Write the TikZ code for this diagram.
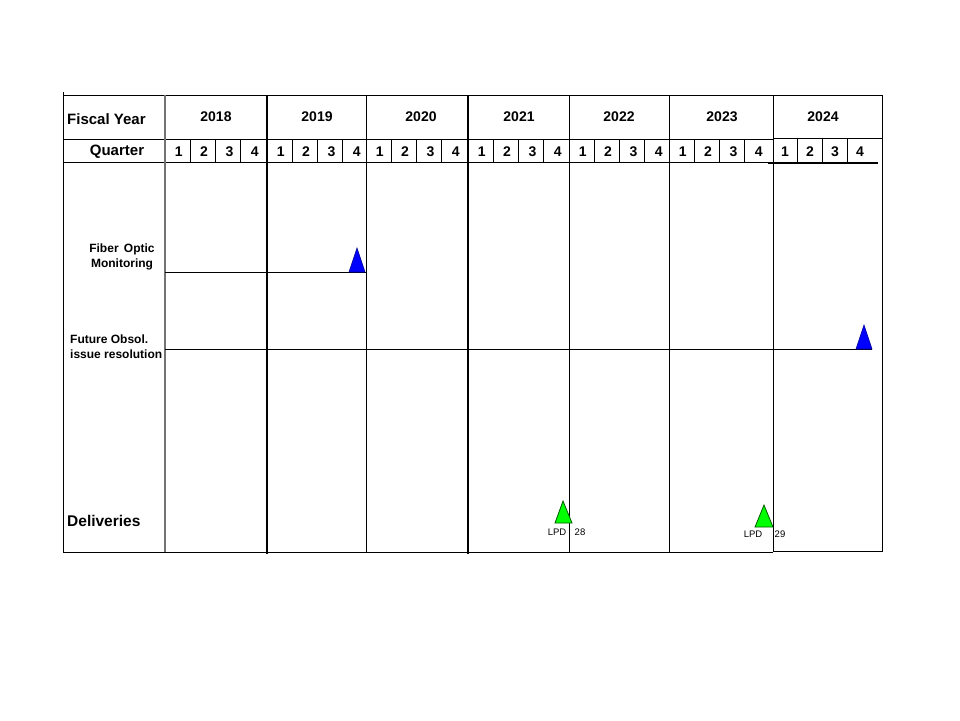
\documentclass[tikz,border=0pt]{standalone}
\usepackage{fontspec}
\setmainfont{Liberation Sans}
\begin{document}
\begin{tikzpicture}[x=1pt,y=-1pt,
  big/.style={font=\fontsize{14}{16}\selectfont\bfseries, inner sep=0pt},
  bigger/.style={font=\fontsize{15}{17}\selectfont\bfseries, inner sep=0pt},
  lab/.style={font=\fontsize{12}{15}\selectfont\bfseries, inner sep=0pt},
  small/.style={font=\fontsize{9.5}{11}\selectfont, inner sep=0pt},
  gline/.style={line width=1pt, black},
  greyline/.style={line width=1.2pt, black!55},
  heavy/.style={line width=2pt, black},
  bluetri/.style={fill=blue, draw=blue!55!black, line width=0.6pt},
  greentri/.style={fill=green, draw=green!35!black, line width=0.8pt}]
\useasboundingbox (0,0) rectangle (960,720);
% outer frame and header lines
\draw[gline] (63,95) -- (882,95);
\draw[gline] (63,92) -- (63,552);
\draw[gline] (63,139) -- (773,139);
\draw[line width=1.6pt] (773,138.5) -- (882,138.5);
\draw[gline] (63,162) -- (773,162);
\draw[line width=1.6pt] (768,163) -- (878,163);
\draw[gline] (63,552) -- (773,552);
\draw[gline] (773,551) -- (882,551);
% year columns
\draw[greyline] (165,95) -- (165,552);
\foreach \xx in {366,569,669,773,882} \draw[gline] (\xx,95) -- (\xx,552);
\foreach \xx in {267,468} \draw[heavy] (\xx,95) -- (\xx,554);
% quarter dividers
\foreach \s in {165,267,366,468,569,669}
  \foreach \k in {1,2,3} \draw[gline] ({\s+25.3*\k},139) -- ({\s+25.3*\k},162);
\foreach \xx in {797,822,847} \draw[gline] (\xx,139) -- (\xx,162);
% row lines
\draw[gline] (165,272) -- (366,272);
\draw[gline] (165,349) -- (872,349);
% years
\foreach \yr/\xx in {2018/216,2019/317,2020/421,2021/519,2022/619,2023/722,2024/823}
  \node[big, anchor=base] (y\yr) at (\xx,121) {\yr};
% quarter digits
\foreach \s/\n in {165/a,267/b,366/c,468/d,569/e,669/f}
  \foreach \k in {1,2,3,4}
    \node[big, anchor=base] (q\n\k) at ({\s+13.8+25.3*(\k-1)},156) {\k};
\foreach \k/\xx in {1/785,2/810,3/835,4/860}
  \node[big, anchor=base] (qg\k) at (\xx,156) {\k};
% left labels
\node[bigger, anchor=base west] (fy) at (67,124.5) {Fiscal Year};
\node[bigger, anchor=base] (qr) at (117,155.5) {Quarter};
\node[lab, align=center] (fom) at (122,256.5) {Fiber\, Optic\\Monitoring};
\node[lab, align=left, anchor=west] (fut) at (70,347) {Future Obsol.\\issue resolution};
\node[anchor=base west, inner sep=0pt, font=\fontsize{15.5}{17}\selectfont\bfseries] (del) at (67,526.5) {Deliveries};
% milestones
\draw[bluetri] (349,272) -- (357,248) -- (365,272) -- cycle;
\draw[bluetri] (856,349) -- (864,325) -- (872,349) -- cycle;
\draw[greentri] (555,523) -- (563,501) -- (572,523) -- cycle;
\draw[greentri] (755,527) -- (764,505) -- (773,527) -- cycle;
\node[small, anchor=base] (lpda) at (557,535.5) {LPD};
\node[small, anchor=base] (na) at (580,535.5) {28};
\node[small, anchor=base] (lpdb) at (753,537.5) {LPD};
\node[small, anchor=base] (nb) at (780,537.5) {29};
\end{tikzpicture}
\end{document}
